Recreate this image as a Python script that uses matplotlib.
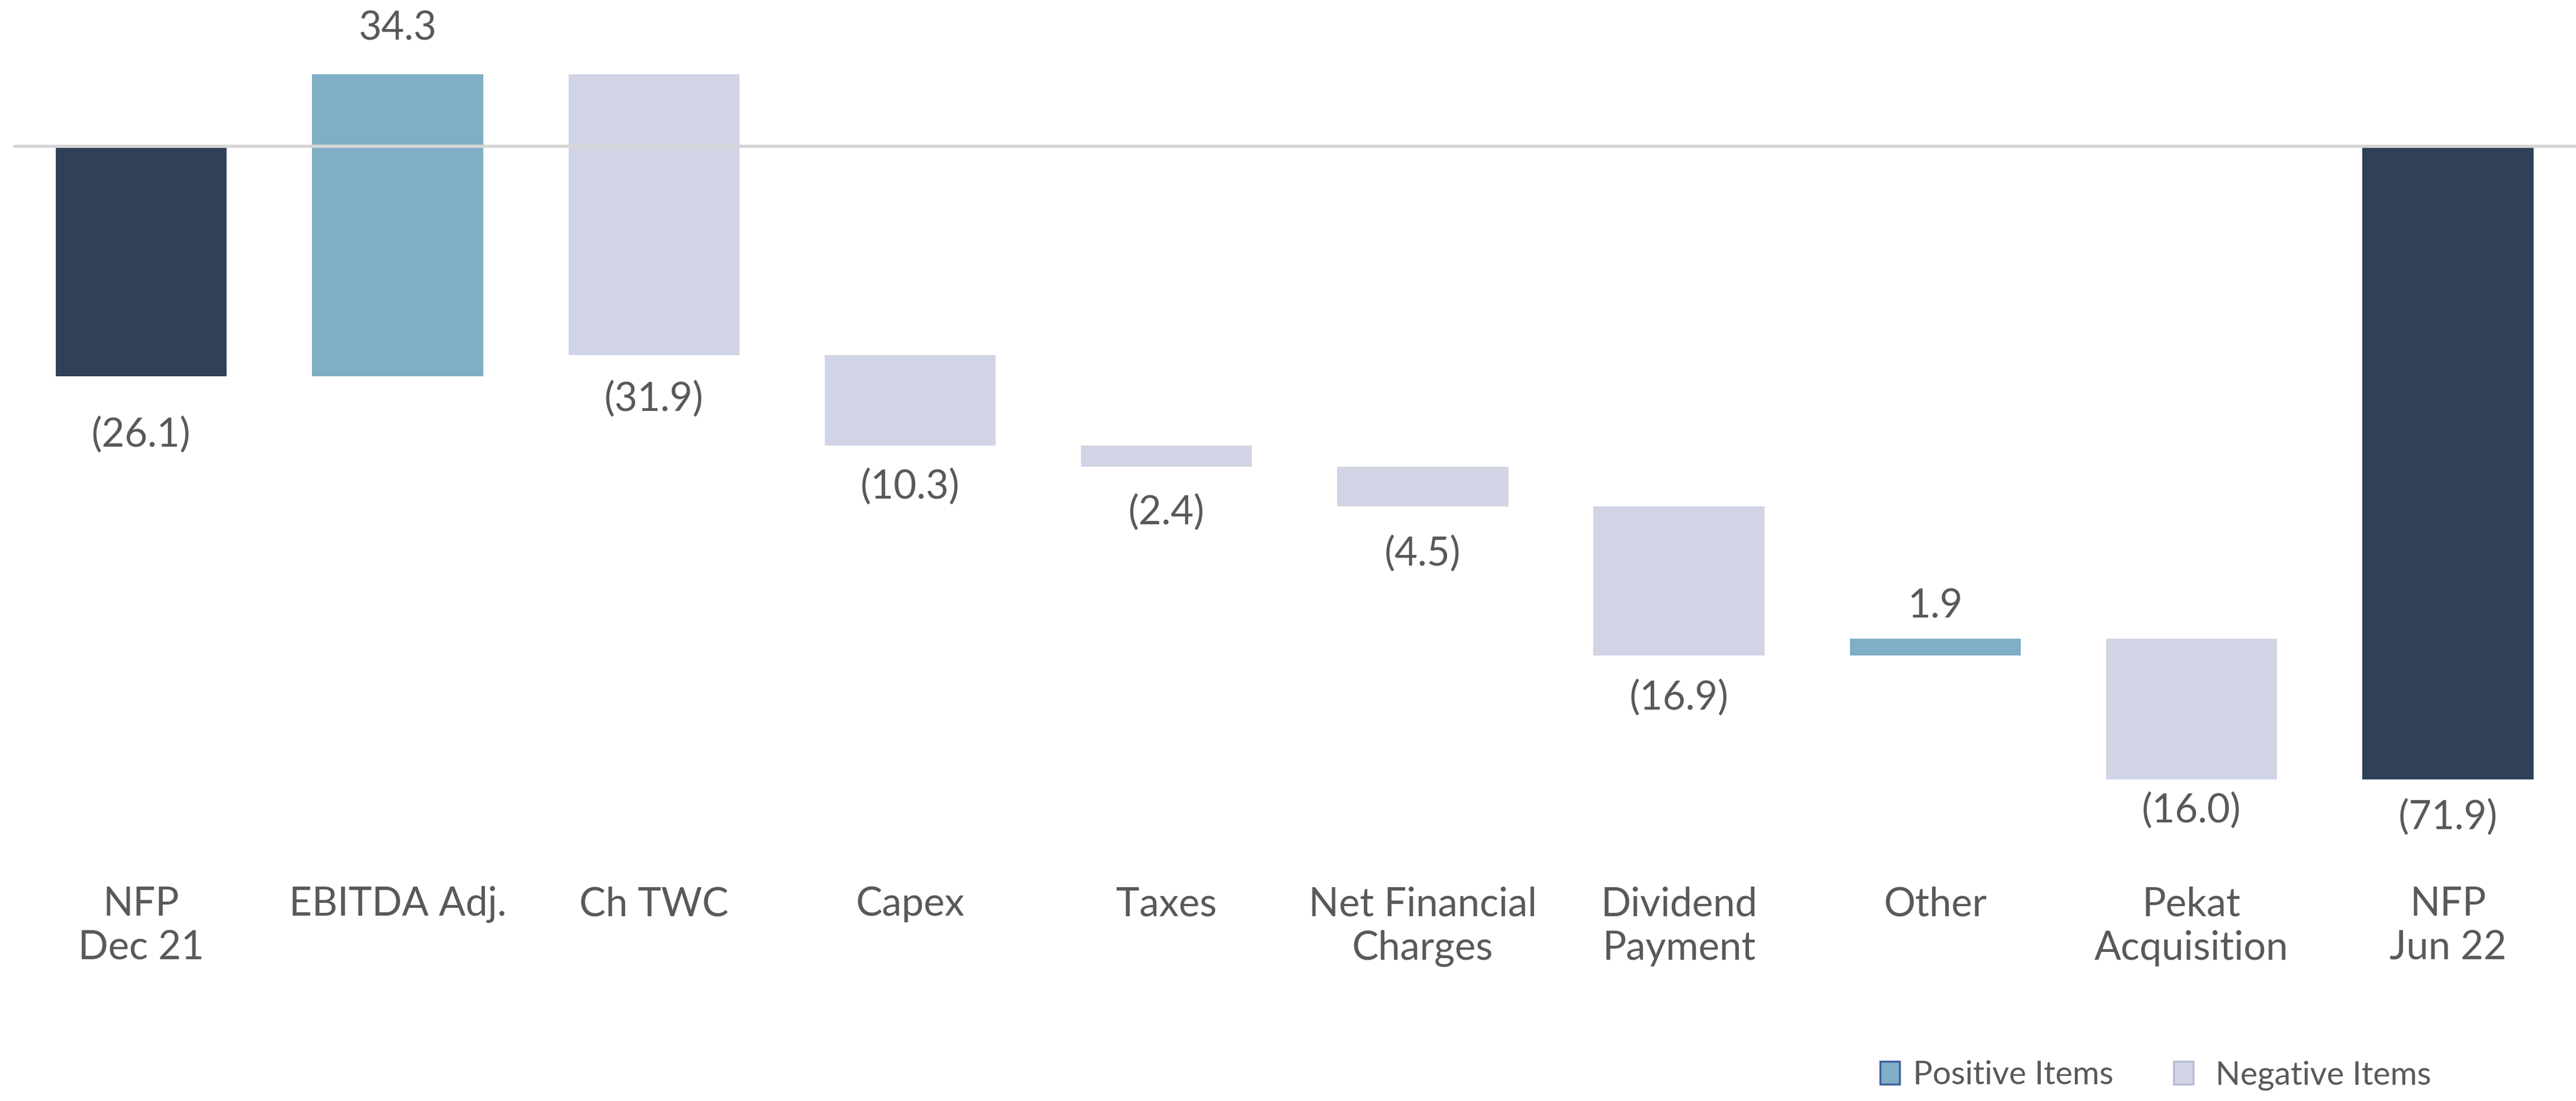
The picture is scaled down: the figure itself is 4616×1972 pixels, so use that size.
import matplotlib.pyplot as plt
from matplotlib.patches import Patch
import numpy as np

# NFP bridge Dec 21 -> Jun 22 (EUR m)
categories = ["NFP\nDec 21", "EBITDA Adj.", "Ch TWC", "Capex", "Taxes",
              "Net Financial\nCharges", "Dividend\nPayment", "Other",
              "Pekat\nAcquisition", "NFP\nJun 22"]
values = [-26.1, 34.3, -31.9, -10.3, -2.4, -4.5, -16.9, 1.9, -16.0, -71.9]
is_total = [True, False, False, False, False, False, False, False, False, True]

navy = "#314059"
pos_col = "#7FAEC5"
neg_col = "#D0D4E4"
text_col = "#595959"

plt.rcParams['font.family'] = ['Lato', 'DejaVu Sans']

# bottoms of the floating bars
bottoms = []
running = 0.0
for v, tot in zip(values, is_total):
    if tot:
        bottoms.append(0.0)
        running = v
    else:
        bottoms.append(running)
        running += v

colors = []
for v, tot in zip(values, is_total):
    if tot:
        colors.append(navy)
    elif v > 0:
        colors.append(pos_col)
    else:
        colors.append(neg_col)

fig = plt.figure(figsize=(46.16, 19.72), dpi=100)
ax = fig.add_axes([8 / 1568, 1 - 520 / 670, 1 - 8 / 1568, 520 / 670])

x = np.arange(len(values))
ax.bar(x, values, bottom=bottoms, width=0.667, color=colors, zorder=2)
ax.axhline(0, color="#D6D6D6", lw=4.2, zorder=3)

# value labels (points offset from bar end)
label_offsets = [76, 59, 57, 53, 59, 61, 55, 42, 40, 49]
for i, (v, b) in enumerate(zip(values, bottoms)):
    end = b + v
    if v < 0:
        txt = "({:.1f})".format(abs(v))
        y = min(b, end)
        off = -label_offsets[i]
    else:
        txt = "{:.1f}".format(v)
        y = max(b, end)
        off = label_offsets[i]
    ax.annotate(txt, (i, y), xytext=(0, off), textcoords="offset points",
                ha="center", va="center", fontsize=51, color=text_col)

ax.set_xlim(-0.5, len(values) - 0.5)
ax.set_ylim(-80.4, 16.6)
ax.set_xticks(x)
ax.set_xticklabels(categories, fontsize=51, color=text_col, linespacing=1.25, va="top")
ax.tick_params(axis="x", length=0, pad=41)
ax.set_yticks([])
for s in ax.spines.values():
    s.set_visible(False)

handles = [Patch(facecolor=pos_col, edgecolor="#3F5FA0", lw=2.5),
           Patch(facecolor=neg_col, edgecolor="#B4BCD8", lw=2.5)]
fig.legend(handles, ["Positive Items", " Negative Items"], loc="lower left",
           bbox_to_anchor=(0.7235, -0.005), ncol=2, frameon=False, fontsize=42,
           handlelength=0.6, handleheight=0.7, handletextpad=0.42,
           columnspacing=1.85, borderpad=0, labelcolor=text_col)

fig.savefig("out.png", dpi=100, facecolor="white")
